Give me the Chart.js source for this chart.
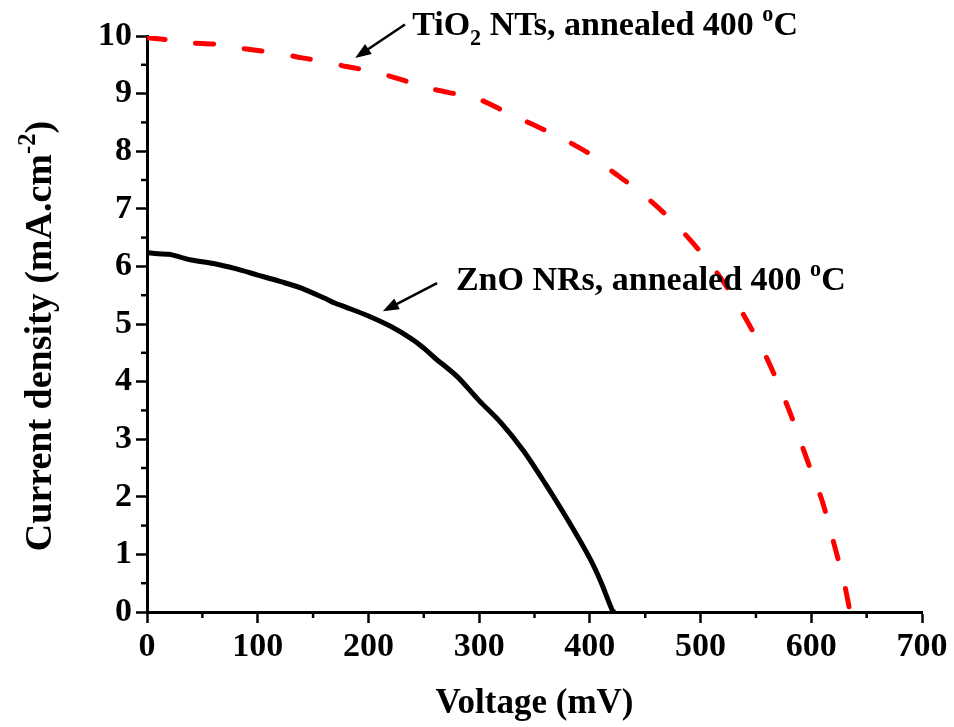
<!DOCTYPE html>
<html>
<head>
<meta charset="utf-8">
<script src="https://cdn.jsdelivr.net/npm/chart.js@4/dist/chart.umd.min.js"></script>
<style>
  body { margin: 0; background: #fff; }
</style>
</head>
<body>
<canvas id="jvChart" width="954" height="727"></canvas>
<script>
// J-V data (voltage in mV, current density in mA/cm2)
const tio2Voltage = [0, 20, 40, 60, 80, 100, 120, 140, 160, 180, 200, 220, 240, 260, 280, 300, 320, 340, 360, 380, 400, 420, 440, 460, 480, 500, 520, 540, 560, 580, 600, 610, 620, 630, 635];
const tio2Current = [9.97, 9.93, 9.88, 9.86, 9.80, 9.75, 9.70, 9.62, 9.56, 9.47, 9.40, 9.30, 9.18, 9.07, 8.99, 8.90, 8.72, 8.54, 8.36, 8.17, 7.95, 7.65, 7.37, 7.05, 6.68, 6.25, 5.75, 5.12, 4.40, 3.50, 2.44, 1.92, 1.22, 0.48, 0.0];

const znoVoltage = [0, 10, 20, 30, 40, 60, 80, 100, 120, 140, 160, 170, 180, 200, 220, 240, 250, 260, 280, 300, 320, 340, 360, 380, 400, 410, 420, 422];
const znoCurrent = [6.24, 6.22, 6.21, 6.16, 6.11, 6.05, 5.96, 5.85, 5.74, 5.62, 5.45, 5.36, 5.29, 5.14, 4.96, 4.73, 4.58, 4.41, 4.09, 3.67, 3.28, 2.80, 2.22, 1.60, 0.93, 0.52, 0.04, 0.0];

const xTicks = [0, 100, 200, 300, 400, 500, 600, 700];
const yTicks = [0, 1, 2, 3, 4, 5, 6, 7, 8, 9, 10];

const FONT = '"Liberation Serif", "Times New Roman", serif';

function toPoints(xs, ys) {
    return xs.map((v, i) => ({ x: v, y: ys[i] }));
}

// text pieces: [text, kind] kind = 'n' normal, 'sub', 'sup'
function drawRich(ctx, parts, x, y, size) {
    let cx = x;
    parts.forEach(([t, kind]) => {
        let s = size, dy = 0;
        if (kind === 'sub') { s = size * 0.65; dy = size * 0.3; }
        if (kind === 'sup') { s = size * 0.65; dy = -size * 0.42; }
        ctx.font = 'bold ' + s + 'px ' + FONT;
        ctx.fillText(t, cx, y + dy);
        cx += ctx.measureText(t).width;
    });
    return cx - x;
}
function richWidth(ctx, parts, size) {
    let w = 0;
    parts.forEach(([t, kind]) => {
        const s = kind === 'n' ? size : size * 0.65;
        ctx.font = 'bold ' + s + 'px ' + FONT;
        w += ctx.measureText(t).width;
    });
    return w;
}

function arrow(ctx, x1, y1, x2, y2) {
    const ang = Math.atan2(y2 - y1, x2 - x1);
    const hl = 16, hw = 6;
    ctx.beginPath();
    ctx.moveTo(x1, y1);
    ctx.lineTo(x2 - Math.cos(ang) * hl * 0.8, y2 - Math.sin(ang) * hl * 0.8);
    ctx.lineWidth = 2.5;
    ctx.stroke();
    ctx.beginPath();
    ctx.moveTo(x2, y2);
    ctx.lineTo(x2 - Math.cos(ang) * hl - Math.sin(ang) * hw, y2 - Math.sin(ang) * hl + Math.cos(ang) * hw);
    ctx.lineTo(x2 - Math.cos(ang) * hl + Math.sin(ang) * hw, y2 - Math.sin(ang) * hl - Math.cos(ang) * hw);
    ctx.closePath();
    ctx.fill();
}

const overlay = {
    id: 'overlay',
    afterDraw(chart) {
        const { ctx, scales: { x, y }, chartArea } = chart;
        ctx.save();
        ctx.strokeStyle = '#000';
        ctx.fillStyle = '#000';
        ctx.lineWidth = 2.5;

        // minor ticks
        const bottom = chartArea.bottom, left = chartArea.left;
        for (let v = 50; v < 700; v += 100) {
            const px = x.getPixelForValue(v);
            ctx.beginPath(); ctx.moveTo(px, bottom); ctx.lineTo(px, bottom + 6); ctx.stroke();
        }
        for (let v = 0.5; v < 10; v += 1) {
            const py = y.getPixelForValue(v);
            ctx.beginPath(); ctx.moveTo(left, py); ctx.lineTo(left - 6, py); ctx.stroke();
        }

        // axis titles
        ctx.textBaseline = 'alphabetic';
        ctx.textAlign = 'left';
        const xt = [['Voltage (mV)', 'n']];
        const xw = richWidth(ctx, xt, 35);
        drawRich(ctx, xt, (chartArea.left + chartArea.right) / 2 - xw / 2, bottom + 101, 35);

        const yt = [['Current density (mA.cm', 'n'], ['-2', 'sup'], [')', 'n']];
        const yw = richWidth(ctx, yt, 38);
        ctx.save();
        ctx.translate(51, 336);
        ctx.rotate(-Math.PI / 2);
        drawRich(ctx, yt, -yw / 2, 0, 38);
        ctx.restore();

        // annotations anchored in data units
        drawRich(ctx, [['TiO', 'n'], ['2', 'sub'], [' NTs, annealed 400 ', 'n'], ['o', 'sup'], ['C', 'n']],
            x.getPixelForValue(239.5), y.getPixelForValue(10.02), 34);
        drawRich(ctx, [['ZnO NRs, annealed 400 ', 'n'], ['o', 'sup'], ['C', 'n']],
            x.getPixelForValue(279), y.getPixelForValue(5.59), 34);
        arrow(ctx, x.getPixelForValue(233), y.getPixelForValue(10.2), x.getPixelForValue(188), y.getPixelForValue(9.62));
        arrow(ctx, x.getPixelForValue(262), y.getPixelForValue(5.71), x.getPixelForValue(213), y.getPixelForValue(5.22));
        ctx.restore();
    }
};

const ctx = document.getElementById('jvChart').getContext('2d');
new Chart(ctx, {
    type: 'line',
    data: {
        datasets: [
            {
                label: 'TiO2 NTs, annealed 400 C',
                data: toPoints(tio2Voltage, tio2Current),
                borderColor: '#ff0000',
                borderWidth: 5,
                borderDash: [18, 31],
                borderCapStyle: 'round',
                pointRadius: 0,
                tension: 0.3
            },
            {
                label: 'ZnO NRs, annealed 400 C',
                data: toPoints(znoVoltage, znoCurrent),
                borderColor: '#000000',
                borderWidth: 5,
                pointRadius: 0,
                tension: 0.3
            }
        ]
    },
    options: {
        responsive: false,
        animation: false,
        layout: { padding: { top: 36, right: 32, left: 0, bottom: 0 } },
        plugins: { legend: { display: false }, tooltip: { enabled: false } },
        scales: {
            x: {
                type: 'linear',
                min: 0, max: 700,
                afterFit(scale) { scale.height = 115; },
                afterBuildTicks(scale) { scale.ticks = xTicks.map(v => ({ value: v })); },
                ticks: { color: '#000', font: { family: FONT, size: 34, weight: 'bold' }, padding: 4, maxRotation: 0 },
                grid: { drawOnChartArea: false, drawTicks: true, tickLength: 11, tickWidth: 2.5, tickColor: '#000' },
                border: { display: true, color: '#000', width: 3 }
            },
            y: {
                min: 0, max: 10,
                afterFit(scale) { scale.width = 147; },
                afterBuildTicks(scale) { scale.ticks = yTicks.map(v => ({ value: v })); },
                ticks: { color: '#000', font: { family: FONT, size: 34, weight: 'bold' }, padding: 4 },
                grid: { drawOnChartArea: false, drawTicks: true, tickLength: 11, tickWidth: 2.5, tickColor: '#000' },
                border: { display: true, color: '#000', width: 3 }
            }
        }
    },
    plugins: [overlay]
});
</script>
</body>
</html>
